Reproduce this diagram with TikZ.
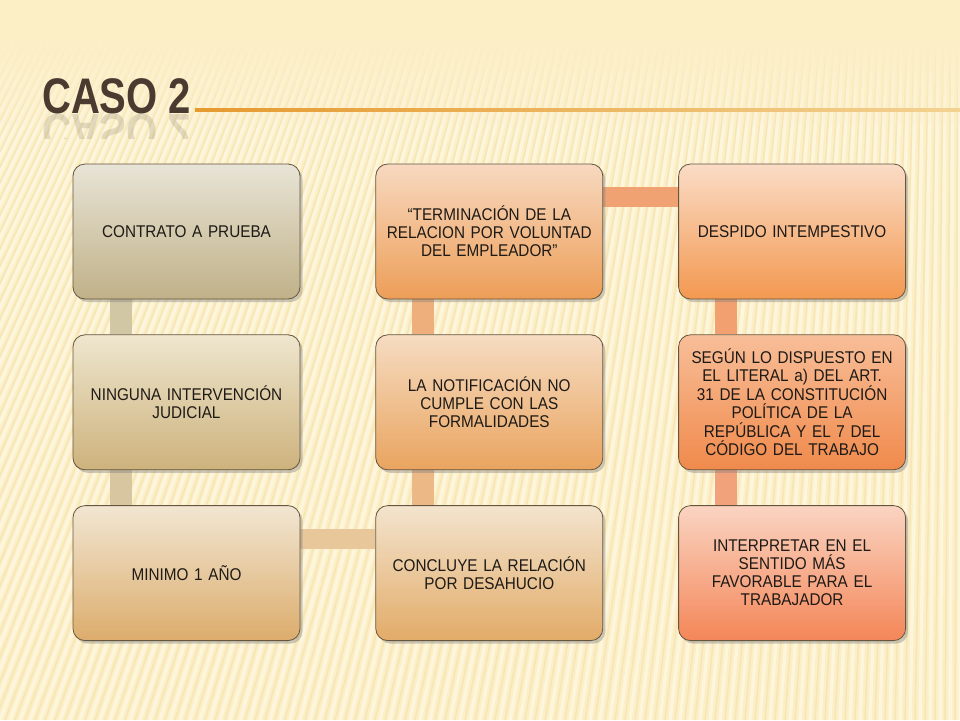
\documentclass[tikz,border=0pt]{standalone}
\usepackage{fontspec}
\setmainfont{Liberation Sans}[FakeStretch=0.9]
\newfontfamily\titlefont{Liberation Sans}[FakeStretch=0.8]
\usepackage{xcolor}
\usepackage{tikz}
\usetikzlibrary{positioning,shadows,backgrounds}

\definecolor{bgcream}{HTML}{FCEFC6}
\definecolor{stripetan}{HTML}{EDD79C}
\definecolor{titlebrown}{HTML}{4A3A30}
\definecolor{lineorange}{HTML}{E69A30}
\definecolor{linemid}{HTML}{EDB25A}
\definecolor{linepale}{HTML}{F3D292}
\definecolor{boxline}{HTML}{66553F}
\definecolor{boxtext}{HTML}{1E1A16}
\definecolor{contratotop}{HTML}{E8E4D6}
\definecolor{contratobot}{HTML}{C0B188}
\definecolor{ningunatop}{HTML}{EEE6CE}
\definecolor{ningunabot}{HTML}{CDB27D}
\definecolor{minimotop}{HTML}{F1E6D2}
\definecolor{minimobot}{HTML}{DCAC6C}
\definecolor{concluyetop}{HTML}{F3E4CE}
\definecolor{concluyebot}{HTML}{E2AB68}
\definecolor{notiftop}{HTML}{F6DCC2}
\definecolor{notifbot}{HTML}{E9A45F}
\definecolor{termintop}{HTML}{F7D9C0}
\definecolor{terminbot}{HTML}{ED9E58}
\definecolor{despidotop}{HTML}{FADCC6}
\definecolor{despidobot}{HTML}{F39850}
\definecolor{seguntop}{HTML}{F8BE98}
\definecolor{segunbot}{HTML}{F08A4C}
\definecolor{interptop}{HTML}{FAD4C2}
\definecolor{interpbot}{HTML}{F48658}
\definecolor{barkhaki}{HTML}{D2C7A4}
\definecolor{bartan}{HTML}{D8C6A0}
\definecolor{barsand}{HTML}{E8C89A}
\definecolor{barapricot}{HTML}{EBB886}
\definecolor{barpeach}{HTML}{EEAF7C}
\definecolor{barsalmon}{HTML}{F0A272}
\definecolor{barcoral}{HTML}{F2A070}
\definecolor{barrose}{HTML}{F2A27A}

\begin{document}
\begin{tikzpicture}[
            x=1pt, y=-1pt,
            node distance=35pt and 75pt,
            stepbox/.style={rectangle, rounded corners=12pt, draw=boxline, line width=0.8pt, minimum width=227pt, minimum height=135pt, text width=217pt, align=center, text=boxtext, font=\fontsize{17}{18}\selectfont, drop shadow={shadow xshift=2.5pt, shadow yshift=-3pt, opacity=0.4}},
            titletext/.style={inner sep=0pt, text=titlebrown, font=\titlefont\bfseries\fontsize{50}{50}\selectfont},
            linkbar/.style={line width=22pt, line cap=butt},
            crossbar/.style={line width=20pt, line cap=butt},
            stripe/.style={white, opacity=0.4, line width=3.5pt}
        ]
        \useasboundingbox (0,0) rectangle (960,720);

        % background
        \begin{scope}[on background layer]
            \fill[bgcream] (0,0) rectangle (960,720);
            \foreach \i in {-40,...,100} {
                \pgfmathsetmacro\xb{\i*10}
                \pgfmathsetmacro\xt{\xb+260*(1-\xb/960)}
                \draw[stripe] (\xb,720) -- (\xt,45);
                \draw[stripetan, opacity=0.35, line width=1.5pt] (\xb+5,720) -- (\xt+5,45);
            }
            \foreach \k in {0,...,9} {
                \pgfmathsetmacro\fadeop{0.9-\k*0.09}
                \fill[bgcream, opacity=\fadeop] (0,45+\k*8) rectangle (960,53+\k*8);
            }
        \end{scope}

        % title
        \node[titletext, anchor=base west] (title) at (42,113) {CASO 2};
        \begin{scope}
            \clip (30,113) rectangle (220,138);
            \begin{scope}[shift={(42,114)}, yscale=-1]
                \node[titletext, anchor=base west, transform shape, opacity=0.15] (titlemirror) at (0,0) {CASO 2};
            \end{scope}
        \end{scope}
        \fill[left color=lineorange, middle color=linemid, right color=linepale] (195,108.8) rectangle (960,111.2);

        \node[stepbox, top color=contratotop, bottom color=contratobot] (contrato) at (186.5,231.5) {CONTRATO A PRUEBA};
        \node[stepbox, top color=ningunatop, bottom color=ningunabot] (ninguna) [below=of contrato] {NINGUNA INTERVENCIÓN\\JUDICIAL};
        \node[stepbox, top color=minimotop, bottom color=minimobot] (minimo) [below=of ninguna] {MINIMO 1 AÑO};
        \node[stepbox, top color=concluyetop, bottom color=concluyebot] (concluye) [right=of minimo] {CONCLUYE LA RELACIÓN\\POR DESAHUCIO};
        \node[stepbox, top color=notiftop, bottom color=notifbot] (notificacion) [above=of concluye] {LA NOTIFICACIÓN NO\\CUMPLE CON LAS\\FORMALIDADES};
        \node[stepbox, top color=termintop, bottom color=terminbot] (terminacion) [above=of notificacion] {“TERMINACIÓN DE LA\\RELACION POR VOLUNTAD\\DEL EMPLEADOR”};
        \node[stepbox, top color=despidotop, bottom color=despidobot] (despido) [right=of terminacion] {DESPIDO INTEMPESTIVO};
        \node[stepbox, top color=seguntop, bottom color=segunbot, font=\fontsize{17}{18.5}\selectfont] (segun) [below=of despido] {SEGÚN LO DISPUESTO EN\\EL LITERAL a) DEL ART.\\31 DE LA CONSTITUCIÓN\\POLÍTICA DE LA\\REPÚBLICA Y EL 7 DEL\\CÓDIGO DEL TRABAJO};
        \node[stepbox, top color=interptop, bottom color=interpbot] (interpretar) [below=of segun] {INTERPRETAR EN EL\\SENTIDO MÁS\\FAVORABLE PARA EL\\TRABAJADOR};

        % connecting bars behind the boxes
        \begin{scope}[on background layer]
            \draw[linkbar, barkhaki] ([xshift=-66pt]contrato.south) -- ([xshift=-66pt]ninguna.north);
            \draw[linkbar, bartan] ([xshift=-66pt]ninguna.south) -- ([xshift=-66pt]minimo.north);
            \draw[crossbar, barsand] ([yshift=34.5pt]minimo.east) -- ([yshift=34.5pt]concluye.west);
            \draw[linkbar, barapricot] ([xshift=-66pt]concluye.north) -- ([xshift=-66pt]notificacion.south);
            \draw[linkbar, barpeach] ([xshift=-66pt]notificacion.north) -- ([xshift=-66pt]terminacion.south);
            \draw[crossbar, barsalmon] ([yshift=34.5pt]terminacion.east) -- ([yshift=34.5pt]despido.west);
            \draw[linkbar, barcoral] ([xshift=-66pt]despido.south) -- ([xshift=-66pt]segun.north);
            \draw[linkbar, barrose] ([xshift=-66pt]segun.south) -- ([xshift=-66pt]interpretar.north);
        \end{scope}

    \end{tikzpicture}
\end{document}
